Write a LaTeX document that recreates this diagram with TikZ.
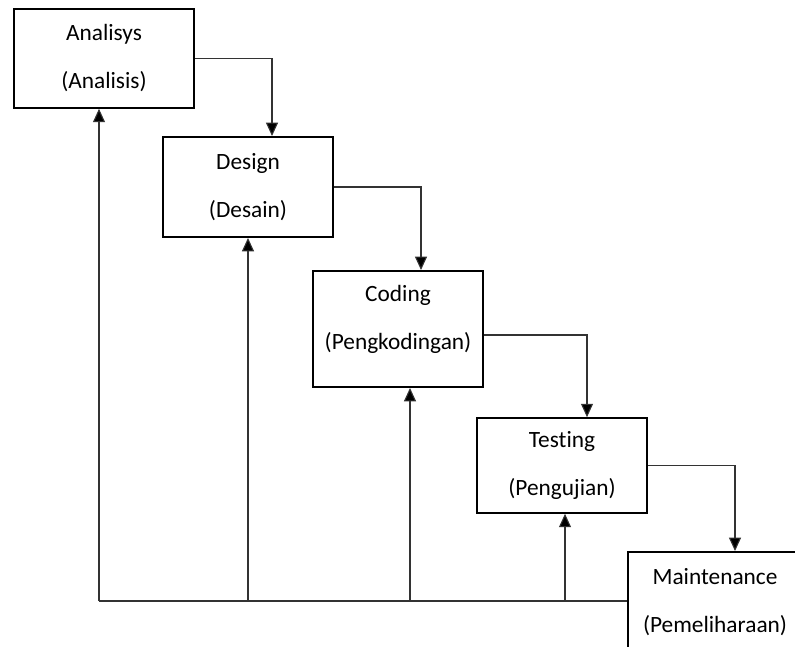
\documentclass[tikz,border=0pt]{standalone}
\usepackage{fontspec}
\setmainfont[Ligatures=NoCommon]{Carlito}
\usepackage{tikz}
\usetikzlibrary{arrows.meta,calc}
\tikzstyle{arrow} = [draw=black!80,line width=0.8pt,-{Triangle[width=9pt,length=10pt,fill=black]}]

\begin{document}
\begin{tikzpicture}
[x=0.75pt,y=0.75pt, stagebox/.style={rectangle,draw=black,line width=1.5pt,fill=white,align=center,
font=\fontsize{17.5}{36}\selectfont, minimum width=127.5pt},
line/.style={draw=black!80,line width=0.8pt}]
\useasboundingbox (0,0) rectangle (795,646);
\clip (0,0) rectangle (795,646);
\node[stagebox,minimum width=135pt,minimum height=74pt] (ana) at (104,587.5) {Analisys\\(Analisis)};
\node[stagebox,minimum height=75pt] (des) at (248,459) {Design\\(Desain)};
\node[stagebox,minimum height=87pt,text depth=17pt] (cod) at (398,317) {Coding\\(Pengkodingan)};
\node[stagebox,minimum height=71pt] (tes) at (562,180.5) {Testing\\(Pengujian)};
\node[stagebox,minimum width=150pt,minimum height=75pt,anchor=west] (mnt) at (627,44) {};
\node[font=\fontsize{17.5}{36}\selectfont,align=center] (mnttext) at (715,44) {Maintenance\\(Pemeliharaan)};

% alur maju
\coordinate (d1) at (272,0);
\coordinate (d2) at (421,0);
\coordinate (d3) at (587,0);
\coordinate (d4) at (735,0);
\draw[arrow] (ana.east) -| (d1 |- des.north);
\draw[arrow] (des.east) -| (d2 |- cod.north);
\draw[arrow] ([yshift=-4.5pt]cod.east) -| (d3 |- tes.north);
\draw[arrow] (tes.east) -| (d4 |- mnt.north);

% umpan balik
\coordinate (f1) at (99,45);
\coordinate (f2) at (248,45);
\coordinate (f3) at (410,45);
\coordinate (f4) at (565,45);
\draw[line] (f1) -- (f1 -| mnt.west);
\draw[arrow] (f1) -- (f1 |- ana.south);
\draw[arrow] (f2) -- (f2 |- des.south);
\draw[arrow] (f3) -- (f3 |- cod.south);
\draw[arrow] (f4) -- (f4 |- tes.south);
\end{tikzpicture}
\end{document}
